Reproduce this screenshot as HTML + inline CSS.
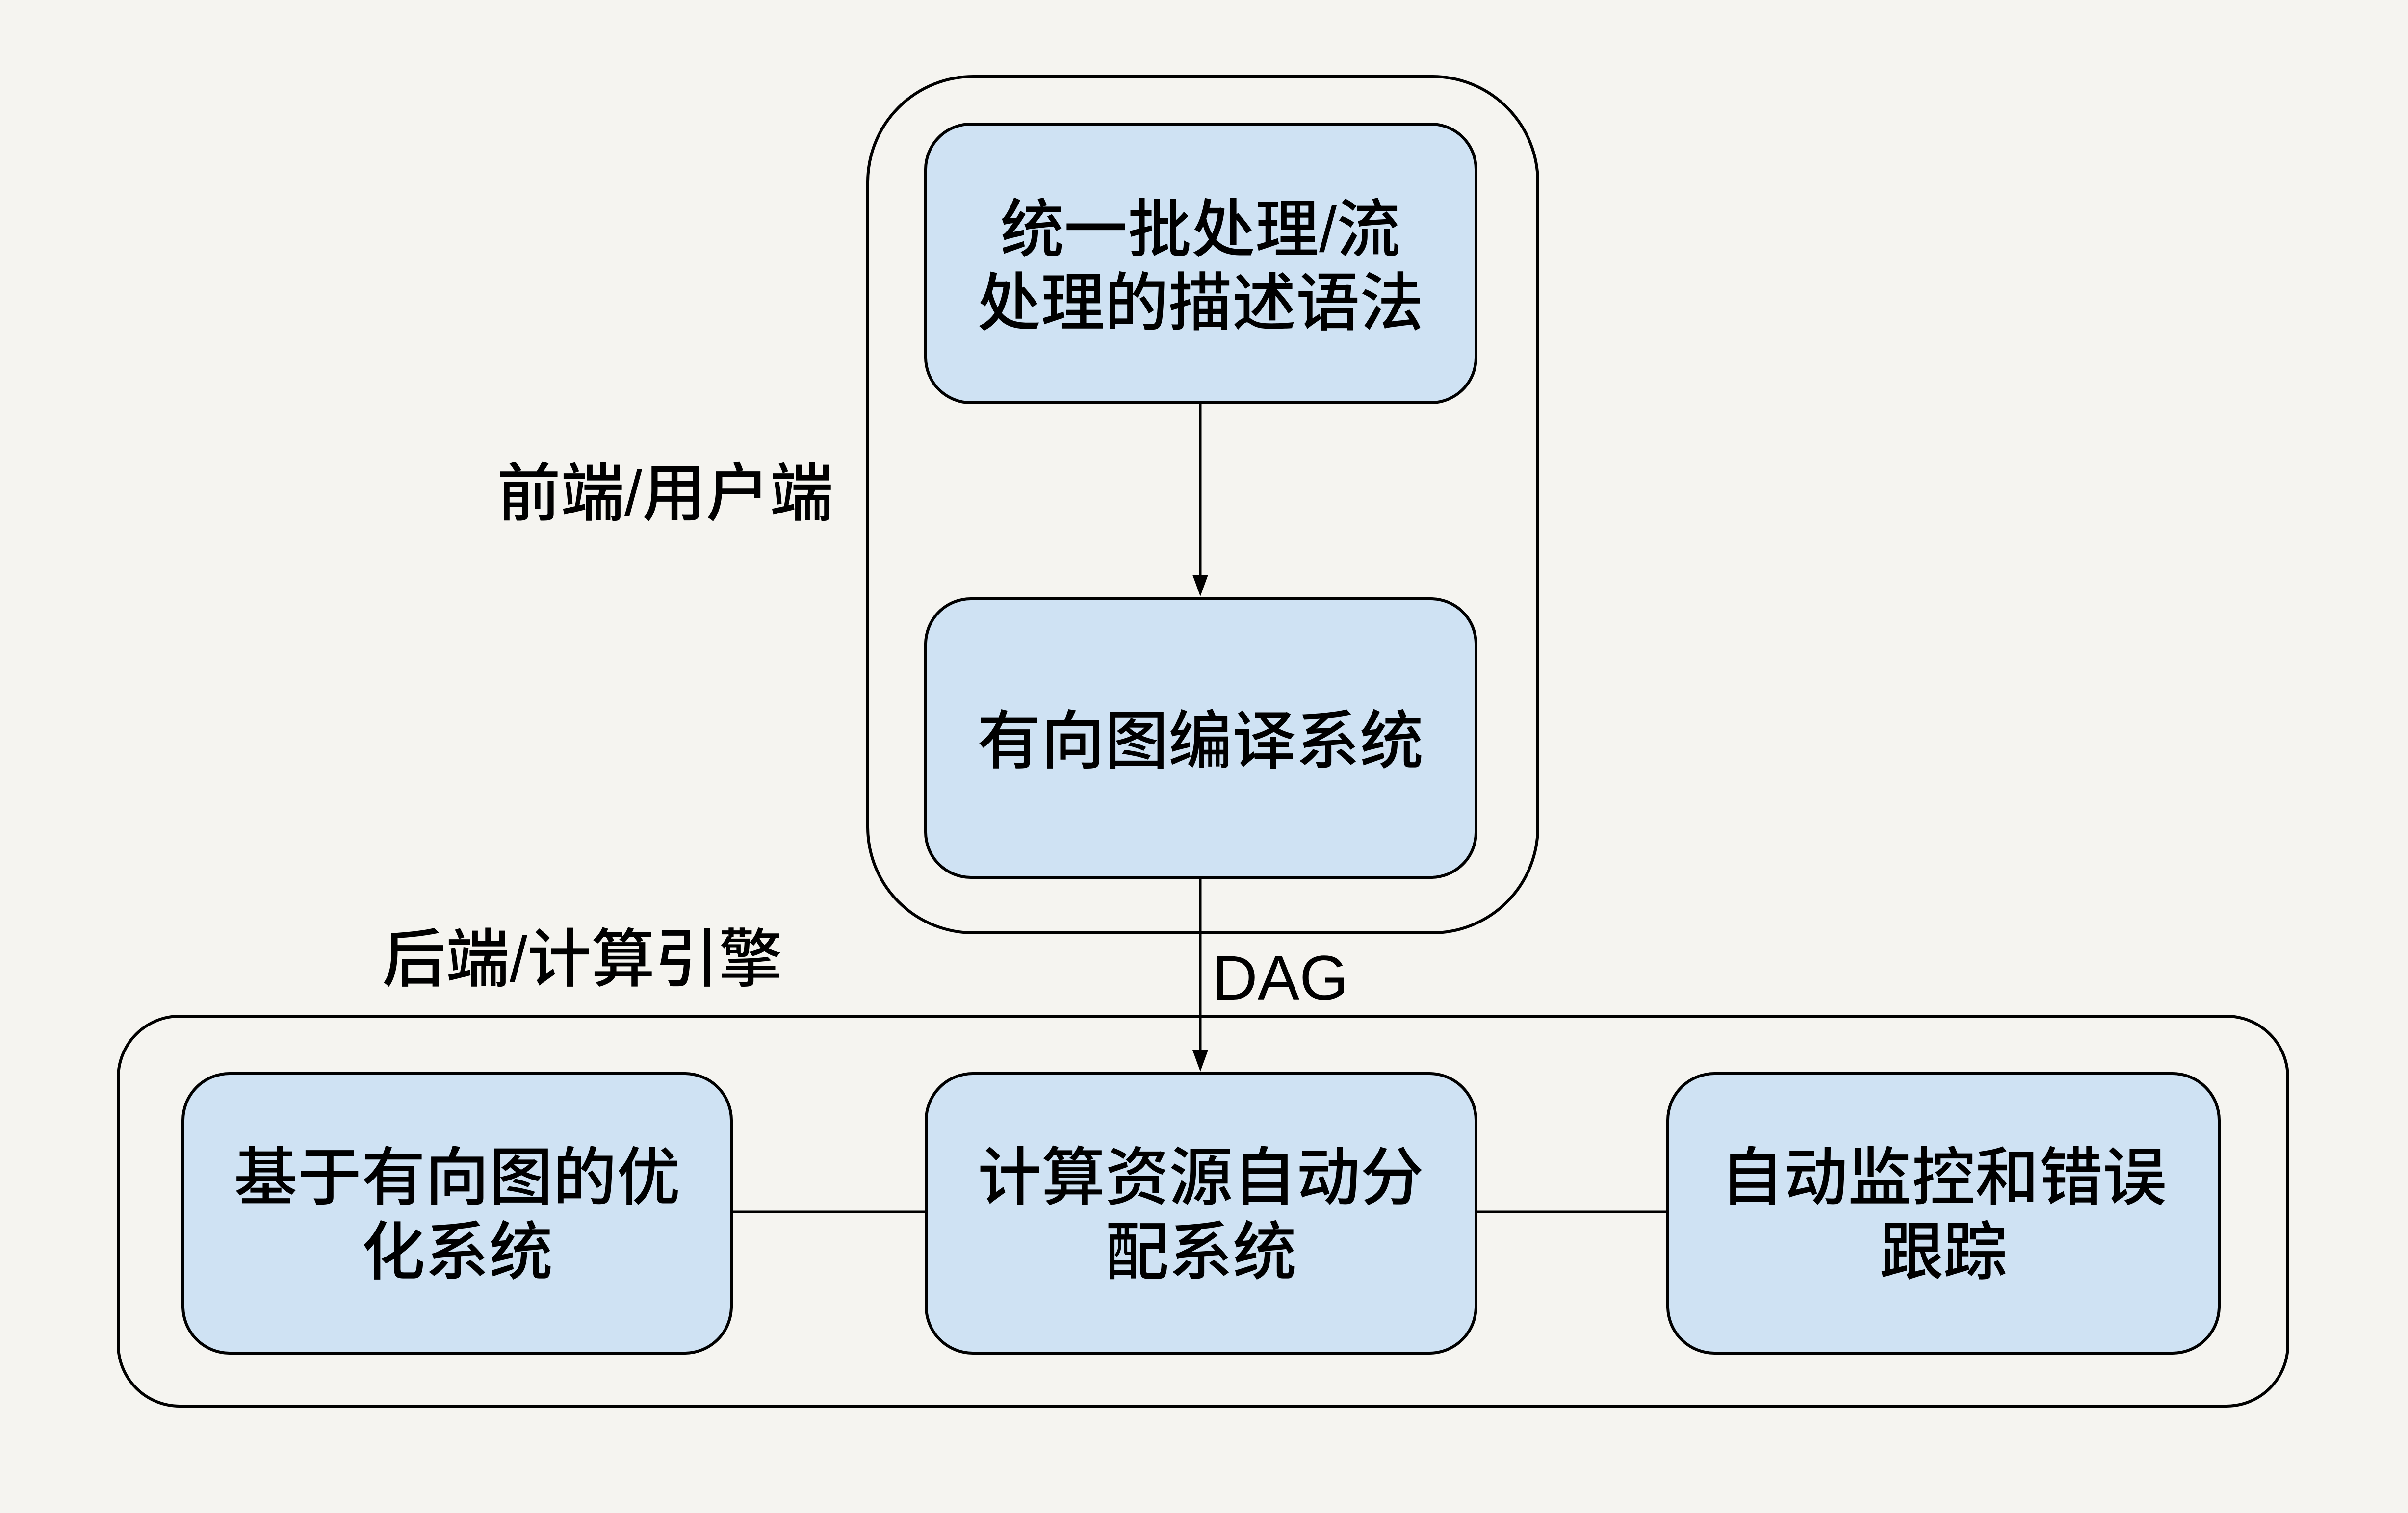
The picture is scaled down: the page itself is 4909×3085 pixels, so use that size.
<!DOCTYPE html>
<html>
<head>
<meta charset="utf-8">
<style>
  html, body { margin: 0; padding: 0; background: #f5f4f0; }
  body { width: 4909px; height: 3085px; overflow: hidden; }
  svg { display: block; }
  text { font-family: "Liberation Sans", "Noto Sans CJK SC", sans-serif; fill: #000; }
  .cjk { font-size: 130px; font-weight: 500; text-anchor: middle; }
</style>
</head>
<body>
<svg width="4909" height="3085" viewBox="0 0 4909 3085" xmlns="http://www.w3.org/2000/svg">
  <rect x="0" y="0" width="4909" height="3085" fill="#f5f4f0"/>

  <!-- Top container -->
  <rect x="1769" y="156" width="1366" height="1746" rx="215" ry="215" fill="none" stroke="#000" stroke-width="6"/>

  <!-- Bottom container -->
  <rect x="241" y="2072" width="4423" height="795" rx="125" ry="125" fill="none" stroke="#000" stroke-width="6"/>

  <!-- Connectors -->
  <line x1="2447" y1="824" x2="2447" y2="1180" stroke="#000" stroke-width="5"/>
  <polygon points="2431,1172 2463,1172 2447,1216" fill="#000"/>

  <line x1="2447" y1="1792" x2="2447" y2="2148" stroke="#000" stroke-width="5"/>
  <polygon points="2431,2141 2463,2141 2447,2185" fill="#000"/>

  <line x1="1494" y1="2471" x2="1885" y2="2471" stroke="#000" stroke-width="5"/>
  <line x1="3012" y1="2471" x2="3397" y2="2471" stroke="#000" stroke-width="5"/>

  <!-- Boxes -->
  <rect x="1887" y="253" width="1122" height="568" rx="92" ry="92" fill="#cfe2f3" stroke="#000" stroke-width="6"/>
  <rect x="1887" y="1221" width="1122" height="568" rx="92" ry="92" fill="#cfe2f3" stroke="#000" stroke-width="6"/>
  <rect x="373" y="2189" width="1118" height="570" rx="95" ry="95" fill="#cfe2f3" stroke="#000" stroke-width="6"/>
  <rect x="1888" y="2189" width="1121" height="570" rx="95" ry="95" fill="#cfe2f3" stroke="#000" stroke-width="6"/>
  <rect x="3400" y="2189" width="1124" height="570" rx="95" ry="95" fill="#cfe2f3" stroke="#000" stroke-width="6"/>

  <!-- Box texts -->
  <text class="cjk" x="2447" y="513">统一批处理/流</text>
  <text class="cjk" x="2447" y="663">处理的描述语法</text>

  <text class="cjk" x="2447" y="1556">有向图编译系统</text>

  <text class="cjk" x="932" y="2446">基于有向图的优</text>
  <text class="cjk" x="932" y="2598">化系统</text>

  <text class="cjk" x="2448" y="2446">计算资源自动分</text>
  <text class="cjk" x="2448" y="2598">配系统</text>

  <text class="cjk" x="3962" y="2446">自动监控和错误</text>
  <text class="cjk" x="3962" y="2598">跟踪</text>

  <!-- Labels -->
  <text class="cjk" x="1356" y="1051">前端/用户端</text>
  <text class="cjk" x="1187" y="2001">后端/计算引擎</text>
  <text x="2610" y="2038" font-size="128" text-anchor="middle">DAG</text>
</svg>
</body>
</html>
